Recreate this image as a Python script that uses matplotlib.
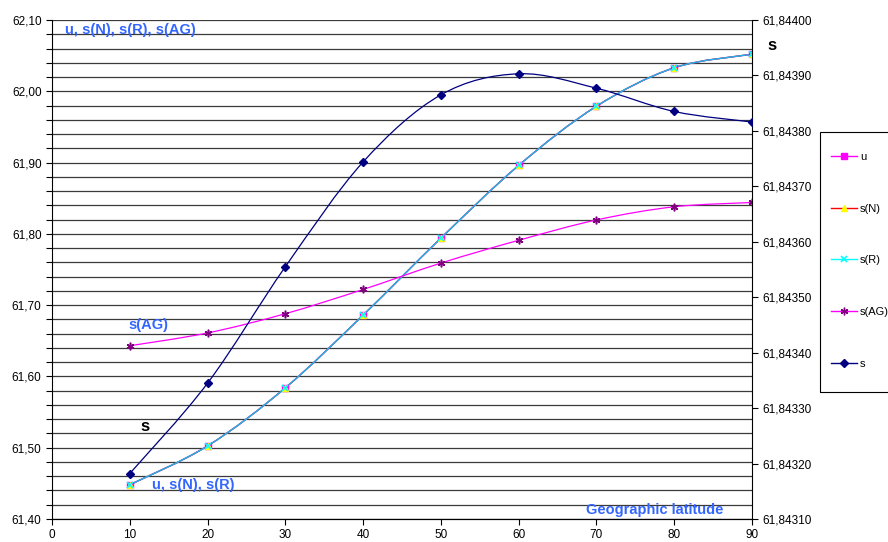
import matplotlib
matplotlib.use('Agg')
import matplotlib.pyplot as plt
from matplotlib.path import Path
from matplotlib.patches import PathPatch, Rectangle
from matplotlib.lines import Line2D
from matplotlib.ticker import FuncFormatter, MultipleLocator

plt.rcParams['font.family'] = ['Liberation Sans', 'DejaVu Sans']

# geographic latitude (deg)
lat = [10, 20, 30, 40, 50, 60, 70, 80, 90]
# left axis series
u = [61.448, 61.5025, 61.584, 61.686, 61.794, 61.896, 61.979, 62.033, 62.052]
s_n = [61.448, 61.5025, 61.584, 61.686, 61.794, 61.896, 61.979, 62.033, 62.052]
s_r = [61.448, 61.5025, 61.584, 61.686, 61.794, 61.896, 61.979, 62.033, 62.052]
s_ag = [61.643, 61.661, 61.688, 61.722, 61.759, 61.791, 61.8195, 61.838, 61.844]
# right axis series
s = [61.843182, 61.843345, 61.843555, 61.843744, 61.843865, 61.843903,
     61.843877, 61.843835, 61.843816]

BLUE_TXT = '#3366ff'


def smooth_path(ax, x, y, color, lw=0.9, z=2):
    """Excel-style smoothed line through the points (cubic Bezier)."""
    n = len(x)
    verts = [(x[0], y[0])]
    codes = [Path.MOVETO]
    for i in range(n - 1):
        x0, y0 = (x[i - 1], y[i - 1]) if i > 0 else (x[i], y[i])
        x3, y3 = (x[i + 2], y[i + 2]) if i + 2 < n else (x[i + 1], y[i + 1])
        c1 = (x[i] + (x[i + 1] - x0) / 6, y[i] + (y[i + 1] - y0) / 6)
        c2 = (x[i + 1] - (x3 - x[i]) / 6, y[i + 1] - (y3 - y[i]) / 6)
        verts += [c1, c2, (x[i + 1], y[i + 1])]
        codes += [Path.CURVE4] * 3
    ax.add_patch(PathPatch(Path(verts, codes), fill=False, edgecolor=color,
                           lw=lw, zorder=z))


fig = plt.figure(figsize=(8.88, 5.42), dpi=100)
ax = fig.add_axes([52 / 888, 1 - 519 / 542, 700 / 888, 499 / 542])
ax2 = ax.twinx()

ax.set_xlim(0, 90)
ax.set_ylim(61.40, 62.10)
ax2.set_ylim(61.84310, 61.84400)

# gridlines every 0.02 on the left scale
ax.yaxis.set_major_locator(MultipleLocator(0.1))
ax.yaxis.set_minor_locator(MultipleLocator(0.02))
ax.grid(True, which='both', axis='y', color='#3a3a3a', lw=0.9)
ax.set_axisbelow(True)
ax.xaxis.set_major_locator(MultipleLocator(10))
ax2.yaxis.set_major_locator(MultipleLocator(0.0001))

ax.yaxis.set_major_formatter(FuncFormatter(lambda v, p: f'{v:.2f}'.replace('.', ',')))
ax2.yaxis.set_major_formatter(FuncFormatter(lambda v, p: f'{v:.5f}'.replace('.', ',')))
ax.xaxis.set_major_formatter(FuncFormatter(lambda v, p: f'{v:.0f}'))

for a in (ax, ax2):
    a.tick_params(which='both', direction='out', labelsize=8.5, color='black',
                  width=0.8)
    a.tick_params(which='major', length=4)
    a.tick_params(which='minor', length=4)
    a.spines['top'].set_visible(False)
ax2.spines['left'].set_visible(False)
ax.spines['right'].set_visible(False)

# left axis lines
smooth_path(ax, lat, u, '#ff00ff')
smooth_path(ax, lat, s_n, '#ff0000')
smooth_path(ax, lat, s_r, '#22b0e8', lw=1.1)
smooth_path(ax, lat, s_ag, '#ff00ff')
ax.plot(lat, u, ls='none', marker='s', ms=5, color='#ff00ff', zorder=3)
ax.plot(lat, s_n, ls='none', marker='^', ms=4.5, color='#ffff00', zorder=4)
ax.plot(lat, s_r, ls='none', marker='x', ms=4.5, mew=1.2, color='#00ffff', zorder=5)
ax.plot(lat, s_ag, ls='none', marker=(6, 2, 0), ms=5.5, mew=1.1, color='#800080', zorder=4)

# right axis line
smooth_path(ax2, lat, s, '#000080')
ax2.plot(lat, s, ls='none', marker='D', ms=4, color='#000080', zorder=4)

# annotations
ax.text(0.019, 0.979, 'u, s(N), s(R), s(AG)', transform=ax.transAxes, color=BLUE_TXT,
        fontsize=10.5, fontweight='bold', va='center', ha='left')
ax.text(0.109, 0.389, 's(AG)', transform=ax.transAxes, color=BLUE_TXT,
        fontsize=10.5, fontweight='bold', va='center', ha='left')
ax.text(0.127, 0.186, 's', transform=ax.transAxes, color='black',
        fontsize=12, fontweight='bold', va='center', ha='left')
ax.text(0.143, 0.068, 'u, s(N), s(R)', transform=ax.transAxes, color=BLUE_TXT,
        fontsize=10.5, fontweight='bold', va='center', ha='left')
ax.text(0.763, 0.019, 'Geographic latitude', transform=ax.transAxes, color=BLUE_TXT,
        fontsize=10.5, fontweight='bold', va='center', ha='left')
fig.text(772 / 888, 1 - 45 / 542, 's', color='black', fontsize=12,
         fontweight='bold', va='center', ha='center')

# legend box (runs off the right edge like the original)
fig.patches.append(Rectangle((820 / 888, 1 - 392 / 542), 100 / 888, 260 / 542,
                             transform=fig.transFigure, fill=False,
                             edgecolor='black', lw=0.8))
handles = [
    Line2D([], [], color='#ff00ff', marker='s', ms=5, lw=1),
    Line2D([], [], color='#ff0000', marker='^', ms=5, mfc='#ffff00', mec='#ffff00', lw=1),
    Line2D([], [], color='#00ffff', marker='x', ms=5, mew=1.2, lw=1),
    Line2D([], [], color='#ff00ff', marker=(6, 2, 0), ms=5.5, mec='#800080', lw=1),
    Line2D([], [], color='#000080', marker='D', ms=4, lw=1),
]
leg = fig.legend(handles, ['u', 's(N)', 's(R)', 's(AG)', 's'], loc='upper left',
                 bbox_to_anchor=(831 / 888, 1 - 152 / 542), borderaxespad=0,
                 fontsize=8, frameon=False, borderpad=0, labelspacing=3.75,
                 handlelength=2.3, handletextpad=0.3)

fig.savefig('out.png', dpi=100)
